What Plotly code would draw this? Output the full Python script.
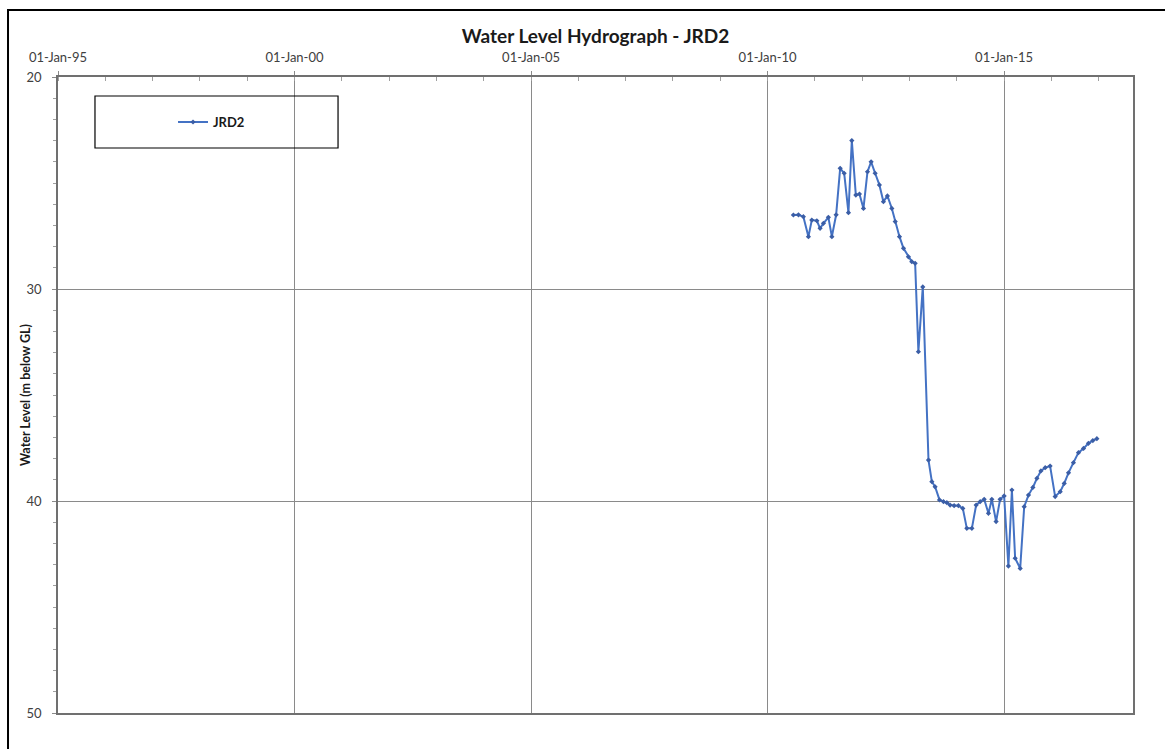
import plotly.graph_objects as go

# Groundwater level record for bore JRD2 (metres below ground level)
sample_dates = [
    "2010-07-19", "2010-08-27", "2010-10-04", "2010-11-12", "2010-12-08",
    "2011-01-16", "2011-02-10", "2011-03-08", "2011-04-15", "2011-05-12",
    "2011-06-14", "2011-07-15", "2011-08-15", "2011-09-17", "2011-10-13",
    "2011-11-13", "2011-12-11", "2012-01-11", "2012-02-11", "2012-03-10",
    "2012-04-10", "2012-05-13", "2012-06-13", "2012-07-14", "2012-08-17",
    "2012-09-12", "2012-10-15", "2012-11-15", "2012-12-23", "2013-01-18",
    "2013-02-13", "2013-03-10", "2013-04-13", "2013-05-27", "2013-06-22",
    "2013-07-17", "2013-08-20", "2013-09-20", "2013-10-16", "2013-11-10",
    "2013-12-11", "2014-01-13", "2014-02-16", "2014-03-19", "2014-04-27",
    "2014-05-30", "2014-06-30", "2014-07-31", "2014-09-02", "2014-09-28",
    "2014-10-31", "2014-12-01", "2015-01-01", "2015-02-03", "2015-03-02",
    "2015-03-27", "2015-05-05", "2015-06-05", "2015-07-08", "2015-08-11",
    "2015-09-11", "2015-10-12", "2015-11-14", "2015-12-22", "2016-01-30",
    "2016-03-09", "2016-04-09", "2016-05-12", "2016-06-19", "2016-07-28",
    "2016-09-05", "2016-10-13", "2016-11-16", "2016-12-17",
]
water_level = [
    26.51, 26.50, 26.59, 27.53, 26.75,
    26.78, 27.14, 26.90, 26.62, 27.53,
    26.50, 24.31, 24.54, 26.40, 23.00,
    25.57, 25.52, 26.20, 24.47, 24.00,
    24.54, 25.09, 25.88, 25.61, 26.20,
    26.82, 27.53, 28.08, 28.48, 28.71,
    28.79, 32.96, 29.90, 38.07, 39.09,
    39.33, 39.95, 40.03, 40.08, 40.19,
    40.22, 40.22, 40.35, 41.29, 41.29,
    40.19, 40.03, 39.92, 40.58, 39.92,
    40.97, 39.92, 39.76, 43.07, 39.48,
    42.70, 43.18, 40.27, 39.72, 39.36,
    38.93, 38.58, 38.43, 38.35, 39.79,
    39.56, 39.17, 38.67, 38.19, 37.72,
    37.52, 37.28, 37.15, 37.06,
]
series_name = "JRD2"

chart_title = "Water Level Hydrograph - JRD2"
y_title = "Water Level (m below GL)"
x_range = ["1995-01-01", "2017-09-22"]
y_ticks = [20, 30, 40, 50]

FONT = "Lato"
GRID = "#8a8a8a"

fig = go.Figure()
fig.add_trace(go.Scatter(
    x=sample_dates,
    y=water_level,
    name=series_name,
    mode="lines+markers",
    line=dict(color="#4472C4", width=2),
    marker=dict(symbol="diamond", size=4, color="#3B5EA6"),
))

fig.update_layout(
    width=1165,
    height=749,
    margin=dict(l=58, r=32, t=77, b=36),
    paper_bgcolor="white",
    plot_bgcolor="white",
    font=dict(family=FONT, size=13, color="#404040"),
    title=dict(
        text=f"<b>{chart_title}</b>",
        x=0.5, xref="paper", xanchor="center",
        y=1 - 36 / 749, yref="container", yanchor="middle",
        font=dict(family=FONT, size=19, color="#1a1a1a"),
    ),
    showlegend=True,
    legend=dict(
        x=0.107, xanchor="left",
        y=0.9292, yanchor="middle",
        bgcolor="rgba(0,0,0,0)",
        borderwidth=0,
        font=dict(family=FONT, size=13, color="#1a1a1a", weight="bold"),
    ),
    shapes=[
        # outer chart frame
        dict(type="rect", xref="paper", yref="paper",
             x0=-0.0465, x1=1.04, y0=-0.07, y1=1.1053,
             line=dict(color="black", width=2), fillcolor="rgba(0,0,0,0)"),
        # legend frame
        dict(type="rect", xref="paper", yref="paper",
             x0=0.0344, x1=0.2605, y0=0.8884, y1=0.9701,
             line=dict(color="black", width=1.2), fillcolor="rgba(0,0,0,0)"),
    ],
    annotations=[
        # vertical axis title
        dict(text=f"<b>{y_title}</b>", textangle=-90,
             xref="paper", yref="paper", x=-0.0307, y=0.5,
             xanchor="center", yanchor="middle", showarrow=False,
             font=dict(family=FONT, size=12.5, color="#1a1a1a")),
    ],
)

fig.update_xaxes(
    type="date",
    side="top",
    range=x_range,
    tick0="1995-01-01",
    dtick="M60",
    tickformat="%d-%b-%y",
    showgrid=True, gridcolor=GRID, gridwidth=1,
    ticks="outside", ticklen=4, tickcolor=GRID,
    ticklabelstandoff=4,
    minor=dict(dtick="M12", ticks="inside", ticklen=4, tickcolor="#a0a0a0", showgrid=False),
    showline=True, mirror=True, linecolor="#707070", linewidth=1.5,
    zeroline=False,
    tickfont=dict(family=FONT, size=13, color="#404040"),
)

fig.update_yaxes(
    range=[50, 20],
    tickvals=y_ticks,
    showgrid=True, gridcolor=GRID, gridwidth=1,
    ticks="outside", ticklen=4, tickcolor=GRID,
    ticklabelstandoff=8,
    minor=dict(dtick=1, ticks="outside", ticklen=3, tickcolor="#a0a0a0", showgrid=False),
    showline=True, mirror=True, linecolor="#707070", linewidth=1.5,
    zeroline=False,
    tickfont=dict(family=FONT, size=13, color="#404040"),
)

fig.write_html("out.html")
